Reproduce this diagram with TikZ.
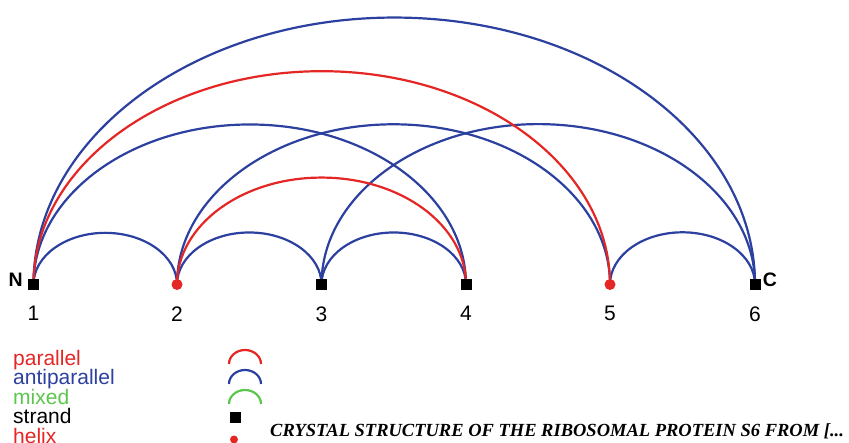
\documentclass[tikz,border=0pt]{standalone}
\usepackage{fontspec}
\setmainfont{Liberation Sans}
\newfontfamily\capfont{Liberation Serif}
\usetikzlibrary{positioning, calc, backgrounds}
\definecolor{paraRed}{RGB}{228,38,36}
\definecolor{antiBlue}{RGB}{44,64,160}
\definecolor{mixGreen}{RGB}{92,198,76}

\begin{document}
\begin{tikzpicture}[
			x=1pt, y=1pt,
			strand/.style={
				rectangle,
				fill=black,
				minimum size=11pt,
				inner sep=0pt
			},
			helix/.style={
				circle,
				fill=paraRed,
				minimum size=11pt,
				inner sep=0pt
			},
			anti/.style={
				antiBlue,
				line width=2.2pt
			},
			para/.style={
				paraRed,
				line width=2.2pt
			},
			hoop/.style={
				to path={let \p1=(\tikztostart), \p2=(\tikztotarget), \n1={(\x2-\x1)/2} in
					arc[start angle=180, end angle=0, x radius=\n1, y radius=#1*\n1]}
			},
			hoop/.default=0.74,
			numstyle/.style={
				inner sep=0pt,
				font=\fontsize{21}{21}\selectfont
			},
			endstyle/.style={
				inner sep=0pt,
				font=\fontsize{19.5}{19.5}\selectfont\bfseries
			},
			keystyle/.style={
				anchor=base west,
				inner sep=0pt,
				font=\fontsize{21}{21}\selectfont
			}
			]
			
			\useasboundingbox (0,0) rectangle (849,-442);
			
			% Sequence elements (nodes)
			\node[strand] (n1) at (33.5,-284.5) {};
			\node[helix]  (n2) at (177,-284.5) {};
			\node[strand] (n3) at (321.5,-284.5) {};
			\node[strand] (n4) at (466,-284.5) {};
			\node[helix]  (n5) at (610,-284.5) {};
			\node[strand] (n6) at (755,-284.5) {};
			
			% Pairings (arcs behind the nodes)
			\begin{scope}[on background layer]
				\draw[anti] (n1.center) to[hoop=0.72] (n2.center);
				\draw[anti] (n2.center) to[hoop=0.72] (n3.center);
				\draw[anti] (n3.center) to[hoop=0.72] (n4.center);
				\draw[anti] (n5.center) to[hoop=0.72] (n6.center);
				\draw[anti] (n1.center) to[hoop] (n4.center);
				\draw[anti] (n2.center) to[hoop] (n5.center);
				\draw[anti] (n3.center) to[hoop] (n6.center);
				\draw[anti] (n1.center) to[hoop] (n6.center);
				\draw[para] (n2.center) to[hoop] (n4.center);
				\draw[para] (n1.center) to[hoop] (n5.center);
			\end{scope}
			
			% Numbers below the nodes
			\node[numstyle, below=16pt of n1] {1};
			\node[numstyle, below=16pt of n2] {2};
			\node[numstyle, below=16pt of n3] {3};
			\node[numstyle, below=16pt of n4] {4};
			\node[numstyle, below=16pt of n5] {5};
			\node[numstyle, below=16pt of n6] {6};
			
			% Termini
			\node[endstyle, left=5pt of n1, yshift=5pt] (nterm) {N};
			\node[endstyle, right=2pt of n6, yshift=5pt] (cterm) {C};
			
			% Legend
			\node[keystyle, text=paraRed] (kpara) at (13,-365) {parallel};
			\node[keystyle, text=antiBlue] (kanti) at (13,-384.5) {antiparallel};
			\node[keystyle, text=mixGreen] (kmix) at (13,-404) {mixed};
			\node[keystyle, text=black] (kstrand) at (13,-423.5) {strand};
			\node[keystyle, text=paraRed] (khelix) at (13,-443) {helix};
			
			\draw[para] (229,-364) arc[start angle=180, end angle=0, x radius=16, y radius=14];
			\draw[anti] (229,-384) arc[start angle=180, end angle=0, x radius=16, y radius=14];
			\draw[mixGreen, line width=2.2pt] (229,-404) arc[start angle=180, end angle=0, x radius=16, y radius=14];
			\node[strand] (kbox) at (235.5,-417.5) {};
			\node[helix, minimum size=8pt] (kdot) at (234,-439.5) {};
			
			% Title
			\node[anchor=base west, inner sep=0pt, font=\capfont\bfseries\itshape\fontsize{18.5}{18.5}\selectfont] (title) at (270,-436) {CRYSTAL STRUCTURE OF THE RIBOSOMAL PROTEIN S6 FROM [...};
			
		\end{tikzpicture}
\end{document}
